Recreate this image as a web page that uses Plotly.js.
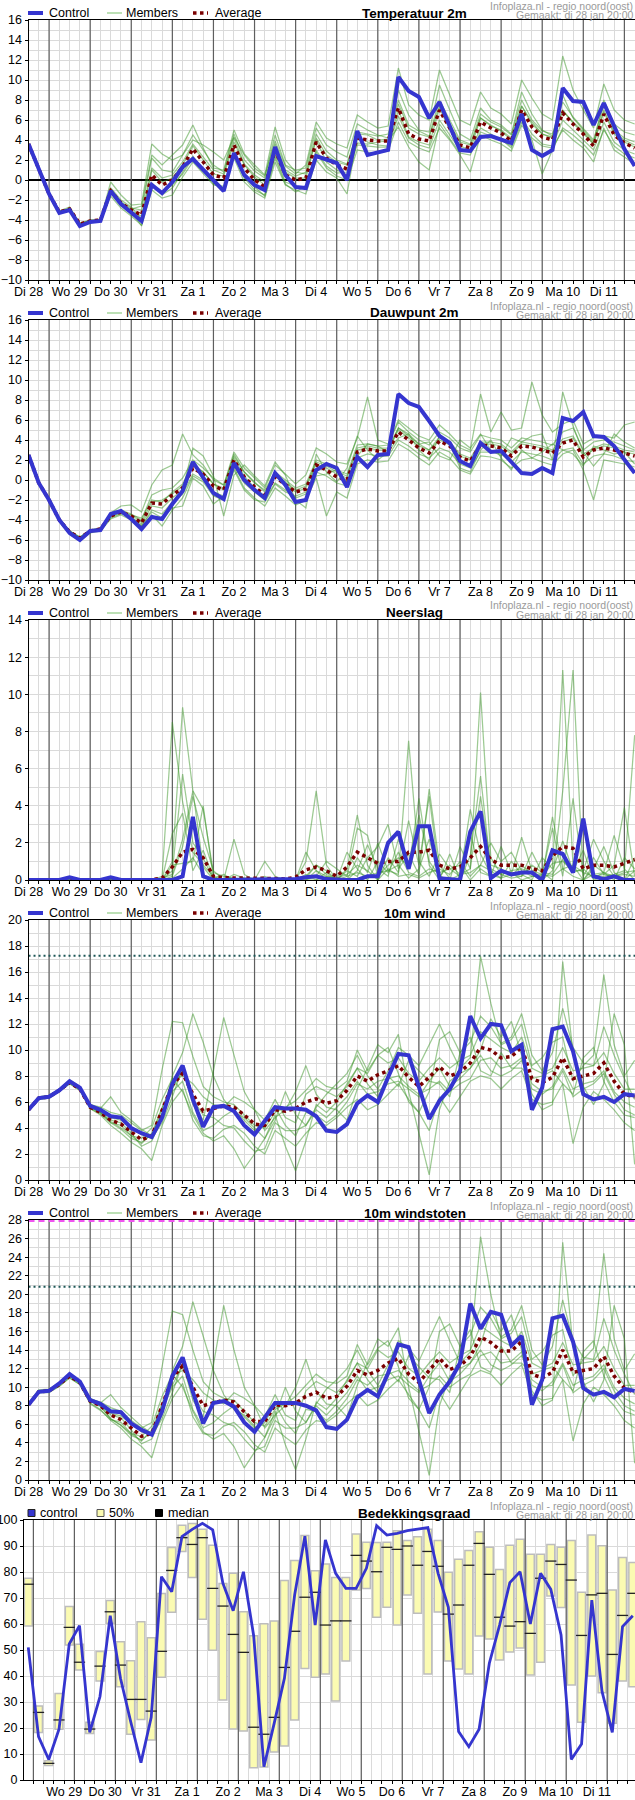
<!DOCTYPE html>
<html><head><meta charset="utf-8">
<script src="https://cdn.plot.ly/plotly-3.0.1.min.js"></script>
<style>html,body{margin:0;padding:0;background:#fff}#chart{width:635px;height:1800px}</style>
</head><body><div id="chart"></div>
<script>
// ---------------- DATA ----------------
const dayLabels = ['Di 28','Wo 29','Do 30','Vr 31','Za 1','Zo 2','Ma 3','Di 4','Wo 5','Do 6','Vr 7','Za 8','Zo 9','Ma 10','Di 11'];
const cloudDayLabels = ['Wo 29','Do 30','Vr 31','Za 1','Zo 2','Ma 3','Di 4','Wo 5','Do 6','Vr 7','Za 8','Zo 9','Ma 10','Di 11'];
const infoLine1 = 'Infoplaza.nl - regio noord(oost)';
const infoLine2 = 'Gemaakt: di 28 jan 20:00';

const tempControl = [3.6,1.2,-1.4,-3.3,-3.0,-4.6,-4.2,-4.1,-1.1,-2.4,-3.2,-4.1, -0.5,-1.3,-0.2,1.3,2.1,1.0,0.0,-1.1,2.7,0.5,-0.5,-1.0, 3.3,0.5,-0.7,-0.8,2.4,2.0,1.7,0.0,4.9,2.5,2.8,3.0, 10.3,8.9,8.3,6.2,7.8,5.5,3.0,2.9,4.3,4.4,4.1,3.7, 6.6,3.0,2.4,3.0,9.2,7.9,7.8,5.5,7.7,5.3,3.1,1.4];
const tempAverage = [3.6,1.2,-1.4,-3.2,-2.9,-4.4,-4.1,-4.0,-1.1,-2.3,-3.0,-3.5, 0.5,-0.5,0.0,1.3,3.1,1.8,0.5,0.2,3.5,1.2,0.0,-0.7, 3.0,0.5,0.0,0.2,3.8,2.2,1.5,1.1,4.2,4.0,3.9,3.9, 7.2,4.6,4.1,3.9,7.0,5.2,3.5,3.2,5.8,5.2,4.7,3.9, 7.0,5.3,4.3,4.0,6.7,5.6,4.6,3.4,6.6,4.5,3.7,3.2];
const tempMembers = [
 [3.6,1.3,-1.3,-3.1,-2.7,-4.3,-4.0,-3.9,-0.9,-2.2,-2.8,-3.0, 2.2,1.0,0.8,2.5,4.5,3.0,1.5,0.8,4.6,2.0,0.9,0.2, 4.5,1.5,1.0,1.2,5.2,3.5,2.8,2.3,5.6,5.0,4.5,4.2, 9.0,6.5,5.0,4.8,9.5,7.0,4.6,4.0,7.2,6.0,5.5,4.6, 8.8,6.6,5.0,4.4,8.5,6.2,5.0,3.8,8.0,5.6,4.8,4.5],
 [3.6,1.1,-1.5,-3.3,-3.1,-4.6,-4.2,-4.1,-1.3,-2.5,-3.3,-4.2, -0.3,-1.5,-0.8,0.8,2.4,1.0,-0.2,-0.8,2.6,0.2,-1.0,-1.5, 2.2,-0.4,-1.2,-0.6,2.8,1.2,0.4,0.0,3.0,2.8,2.7,2.9, 5.8,3.8,3.2,2.8,5.2,4.0,2.5,0.8,4.5,4.0,3.6,2.9, 5.5,4.0,0.6,3.0,5.2,4.5,3.6,2.5,5.0,3.4,2.6,2.2],
 [3.6,1.2,-1.4,-3.2,-2.8,-4.5,-4.1,-4.0,-1.0,-2.3,-3.1,-3.6, 1.2,0.2,0.5,1.8,3.6,2.3,1.0,0.6,4.2,1.6,0.5,-0.2, 3.6,1.0,0.4,0.8,4.6,2.9,2.0,1.6,4.8,4.6,4.4,4.6, 8.0,5.5,4.9,4.4,8.0,6.0,4.0,3.6,6.6,5.8,5.3,4.5, 8.0,6.0,4.9,4.6,7.8,6.3,5.2,4.0,7.5,5.0,4.2,3.8],
 [3.6,1.2,-1.3,-3.2,-3.0,-4.4,-4.0,-4.0,-1.2,-2.4,-2.9,-2.6, 2.5,1.5,2.5,3.5,5.5,3.2,1.2,1.0,5.0,2.6,1.5,0.5, 5.3,2.0,0.8,0.6,4.0,1.8,1.0,0.5,3.5,3.4,3.3,3.3, 6.4,4.2,3.5,3.2,6.0,4.5,3.0,2.8,5.2,4.6,4.0,3.4, 6.2,4.6,3.6,3.4,6.0,5.0,4.0,3.0,5.8,3.8,3.0,2.6],
 [3.6,1.2,-1.4,-3.3,-2.9,-4.3,-4.1,-4.0,-1.2,-2.3,-3.1,-4.6, -1.0,-1.8,-1.5,0.3,1.8,0.6,-0.5,-0.6,2.2,-0.2,-1.2,-1.8, 1.8,-0.5,-1.0,-1.4,2.0,0.8,0.2,-1.4,4.3,3.8,3.5,3.4, 7.0,4.3,3.8,3.5,7.2,5.0,3.4,3.0,6.2,5.5,4.9,4.0, 7.4,5.8,4.6,4.2,6.9,5.8,4.8,3.6,6.8,4.6,3.8,3.3],
 [3.6,1.2,-1.4,-3.1,-2.9,-4.4,-4.1,-4.0,-0.2,-1.5,-2.5,-2.4, 3.6,2.6,2.0,2.5,4.0,3.5,2.8,2.0,4.3,2.5,1.2,0.4, 3.9,1.4,0.6,1.5,5.8,4.2,3.6,3.2,6.5,5.8,5.2,5.4, 11.2,7.5,6.5,6.0,11.0,8.5,6.0,5.5,8.8,7.2,6.6,5.6, 10.0,8.2,6.6,6.0,12.4,9.0,7.0,5.2,9.6,7.0,6.0,5.6],
 [3.6,1.2,-1.4,-3.2,-2.9,-4.4,-4.1,-4.0,-1.6,-2.8,-3.6,-4.5, -0.5,-1.2,-0.5,0.6,2.2,1.0,-0.4,-0.9,3.0,0.5,-0.7,-1.6, 2.5,-0.2,-0.6,-0.9,3.0,1.4,0.7,0.8,3.7,3.6,3.8,3.9, 5.3,3.3,1.8,1.0,5.6,4.2,2.7,2.5,4.8,4.4,4.1,3.2, 5.8,4.2,3.4,3.2,5.0,4.0,3.2,1.8,5.2,3.0,2.3,1.6],
 [3.6,1.2,-1.4,-3.2,-2.9,-4.4,-4.2,-4.1,-0.8,-2.0,-2.7,-3.9, 1.0,-0.2,0.2,1.5,3.4,2.0,0.6,0.4,3.8,1.5,0.3,-0.5, 3.2,0.8,0.2,0.2,4.2,2.5,1.8,1.5,4.6,4.5,4.0,4.1, 7.6,5.2,4.6,4.3,7.4,5.6,3.8,3.5,6.2,5.4,5.0,4.2, 7.4,5.6,4.6,4.3,7.0,5.7,4.6,3.6,7.0,4.8,4.0,3.5]
];

const dewControl = [2.5,-0.3,-2.0,-4.0,-5.3,-6.0,-5.1,-5.0,-3.4,-3.1,-3.9,-4.9, -3.7,-3.9,-2.4,-1.1,1.8,0.2,-1.3,-1.9,1.7,0.0,-1.0,-1.8, 0.7,-0.5,-2.2,-2.0,1.0,1.6,1.2,-0.7,2.3,1.3,2.5,2.6, 8.6,7.7,7.3,5.9,4.4,3.7,1.9,1.4,3.7,2.8,2.9,1.8, 0.7,0.6,1.2,0.7,6.2,5.9,6.8,4.4,4.3,3.4,2.0,0.7];
const dewAverage = [2.5,-0.3,-2.0,-4.0,-5.2,-5.8,-5.1,-4.9,-3.6,-3.2,-3.6,-4.3, -2.3,-2.4,-1.5,-0.8,1.2,0.6,-0.6,-1.0,2.0,0.3,-0.7,-1.5, 0.3,-0.4,-1.2,-0.9,1.5,1.0,0.3,0.0,2.8,3.1,2.9,2.9, 4.8,4.0,3.2,2.7,3.9,3.4,2.3,1.9,3.5,3.4,3.2,2.4, 3.4,3.3,3.0,2.7,3.7,4.0,2.3,3.0,3.2,3.0,2.7,2.4];
const dewMembers = [
 [2.5,-0.2,-1.9,-3.9,-5.1,-5.7,-5.0,-4.8,-3.3,-2.6,-2.5,-3.2, -0.5,1.0,1.5,4.6,2.5,1.5,0.0,-0.5,2.8,1.2,0.2,-0.8, 1.5,0.6,-0.4,0.5,3.2,2.6,1.8,1.6,4.2,8.3,4.0,3.6, 6.0,5.2,4.4,4.0,5.5,4.6,3.5,3.0,8.6,4.8,6.8,5.0, 5.2,9.8,6.5,4.8,5.6,6.0,3.6,4.2,4.4,4.2,5.5,5.8],
 [2.5,-0.4,-2.1,-4.1,-5.4,-6.1,-5.3,-5.1,-3.9,-3.5,-4.0,-4.8, -3.5,-4.6,-3.0,-1.8,0.4,-0.2,-1.6,-2.0,1.2,-0.8,-1.8,-2.6, -0.8,-1.6,-2.5,-2.0,0.2,-3.6,-1.2,-1.8,1.6,2.0,1.8,1.9, 3.6,3.0,2.2,1.5,2.8,2.2,1.0,0.6,2.4,2.3,2.0,1.2, 2.0,2.2,1.8,1.5,2.6,3.0,1.0,-2.0,2.0,1.8,1.6,1.3],
 [2.5,-0.3,-2.0,-4.0,-5.2,-5.8,-5.1,-4.9,-3.5,-3.0,-3.4,-4.0, -1.5,-1.0,-0.8,0.2,2.0,1.2,0.2,-0.5,2.4,0.8,-0.3,-1.0, 0.8,0.0,-0.8,-0.4,2.0,1.6,1.0,0.6,3.5,3.6,3.4,3.5, 5.8,4.8,4.0,3.5,4.8,4.2,3.2,2.8,4.5,4.2,4.0,3.2, 4.2,4.0,3.8,3.5,4.8,5.2,3.0,3.8,4.0,3.8,3.4,3.0],
 [2.5,-0.3,-2.0,-4.0,-5.2,-5.9,-5.2,-5.0,-3.7,-3.3,-3.8,-4.6, -3.0,-3.4,-2.2,-1.4,0.6,0.0,-1.2,-1.6,1.4,-0.3,-1.2,-2.0, -0.3,-1.0,-1.8,-1.4,0.8,0.4,-0.3,-0.6,2.2,2.6,2.4,2.4, 4.0,3.4,2.6,2.2,3.2,2.8,1.6,1.2,2.8,2.8,2.6,1.8, 2.8,2.6,2.4,2.0,3.0,3.2,1.6,2.4,2.6,2.4,2.0,1.8],
 [2.5,-0.3,-2.0,-4.0,-5.2,-5.8,-5.0,-4.9,-3.6,-3.2,-3.7,-4.4, -2.6,-2.8,-1.8,-1.0,3.2,2.4,0.4,-3.6,0.5,1.5,0.4,-0.6, 1.8,0.5,-2.0,-2.8,2.6,0.8,-0.2,1.2,4.4,3.0,2.0,2.8, 5.2,4.6,3.6,3.8,2.4,2.0,4.0,3.2,4.6,3.0,2.4,4.2, 3.8,4.4,4.6,2.0,8.8,5.4,2.8,1.4,2.6,4.6,3.8,3.2],
 [2.5,-0.3,-2.0,-4.0,-5.1,-5.7,-5.0,-4.8,-3.8,-3.4,-3.5,-3.8, -2.0,-2.2,-1.2,-0.4,1.6,0.8,-0.4,-0.8,2.6,0.8,-0.2,-1.2, 0.6,-0.2,-1.0,-0.6,1.8,1.4,0.8,0.4,3.2,3.4,3.2,3.2, 5.2,4.4,3.6,3.0,4.3,3.8,2.6,2.2,3.8,3.8,3.6,2.8, 3.8,3.6,3.4,3.0,4.1,4.4,2.6,3.2,3.6,3.4,3.0,2.8],
 [2.5,-0.3,-2.0,-4.1,-5.3,-6.0,-5.2,-5.0,-3.4,-3.2,-3.8,-4.6, -3.2,-3.8,-2.8,-2.6,0.2,-0.6,-2.4,-1.6,1.0,-1.0,-2.0,-2.2, -0.4,-1.2,-1.6,-1.2,0.4,0.6,1.0,-0.2,2.4,3.6,3.4,2.8, 4.2,4.6,3.0,2.0,4.4,3.6,1.2,0.8,3.0,4.0,2.2,1.0, 3.0,2.2,2.8,3.6,3.0,2.6,1.4,3.4,3.0,2.6,2.8,1.6],
 [2.5,-0.3,-2.0,-3.9,-5.1,-5.8,-5.1,-4.9,-3.6,-3.1,-3.5,-4.2, -2.2,-2.0,-1.4,-0.6,1.4,0.8,-0.4,-1.0,2.2,0.4,-0.8,-1.6, 0.4,-0.5,-1.2,-0.8,1.6,1.2,0.6,0.2,3.0,3.2,3.0,3.0, 5.0,4.2,3.4,3.0,4.0,3.5,2.4,2.0,3.6,3.6,3.4,2.6, 3.6,3.4,3.2,2.8,3.8,4.2,2.4,3.0,3.4,3.2,2.8,2.6]
];

const rainControl = [0,0,0,0,0.15,0,0,0,0.15,0,0,0, 0,0,0,0.2,3.4,0.2,0,0,0,0,0,0, 0,0,0.05,0.15,0.2,0.05,0,0,0,0.2,0.2,2.0, 2.6,0.6,2.9,2.9,0.1,0.05,0,2.6,3.7,0.1,0.5,0.3, 0.4,0.4,0,1.6,1.4,0.4,3.3,0.2,0.05,0.2,0,0];
const rainAverage = [0,0,0,0,0.02,0,0,0.02,0.02,0,0,0.02, 0.02,0.1,0.7,1.5,1.65,1.2,0.2,0.12,0.12,0.1,0.08,0.08, 0.08,0.05,0.15,0.55,0.7,0.5,0.2,0.7,1.5,1.2,0.9,1.0, 1.0,1.5,1.5,1.6,0.8,0.6,0.7,1.2,1.8,1.1,0.8,0.8, 0.8,0.6,0.5,1.3,1.8,1.7,0.6,0.8,0.8,0.7,0.9,1.1];
const rainMembers = [
 [0,0,0,0,0,0,0,0,0,0,0,0, 0,0.2,8.5,4.2,1.5,0.8,0.2,0,0,0,0.1,0, 0,0,0,1.5,0.5,0,0,0.6,3.5,0.8,0,1.2, 0.4,3.2,0.8,4.5,0.2,0,1.8,0.6,10.1,1.2,0.3,0.1, 0.2,1.5,0.4,0,4.8,11.3,0,0.6,1.8,0.4,0,1.2],
 [0,0,0,0,0.1,0,0,0,0,0,0,0, 0,0,1.0,9.3,4.8,3.8,0.4,0.2,0.1,0,0,0, 0,0,0,0.2,0.8,0.3,0,0,0.5,1.9,0.6,0.2, 2.2,0.6,4.4,0.8,0,1.4,0,2.5,0.4,0.2,1.8,0.4, 0,0.2,0.2,3.4,0.6,0.8,0,0.3,0.4,2.4,0.6,0],
 [0,0,0,0,0,0,0,0,0.1,0,0,0, 0,0,0.5,5.7,2.0,1.2,0,0,2.2,0.3,0,0, 0,0,0,1.0,4.8,0.8,0,0,1.2,0.4,2.0,0.5, 0.3,7.5,1.0,0.2,1.4,0.6,0.2,3.8,1.4,0.3,0.1,1.0, 0.3,0,1.2,0.6,11.3,0.8,0.4,0.2,0.3,0.8,3.9,0.2],
 [0,0,0,0,0,0,0,0,0,0,0,0, 0,0,0.2,1.8,4.5,2.3,0.5,0,0,0,0,0.2, 0,0,0,0,0.2,1.0,0.6,0.2,0.4,0.2,0.4,0.5, 0.8,0.1,0.6,2.2,0.2,0,0.3,0.6,4.5,0.8,0.6,0.2, 0.8,0.3,0,0.5,2.1,0.5,1.6,0,0.2,0.3,0.5,7.8],
 [0,0,0,0,0,0,0,0,0,0,0,0, 0,0,0.8,0.9,1.0,4.0,0.1,0.3,0,0.1,0,1.0, 0.2,0,0,0,0,0.2,0,1.5,0.6,0,1.0,0.4, 1.5,0.4,0.2,0.6,0.4,0.6,0.8,0,0.6,0.2,0.5,0.3, 2.3,0.5,0.3,0.2,0.6,0.2,0,0.8,0.4,0,1.2,0.6],
 [0,0,0,0,0,0,0,0,0,0,0,0, 0,0.1,0.3,2.2,4.8,0.7,0,0,0.3,0.1,0,0, 0,0,0,0.1,0.8,0.5,0,0.2,2.8,2.4,0.2,0.8, 1.2,0.8,3.5,1.0,0.2,0.8,0.3,0.4,0.8,2.0,1.0,1.5, 0.5,0.2,0.3,2.8,0.2,4.4,0.2,1.2,0.3,0.2,0,0.5],
 [0,0,0,0,0,0,0,0,0,0,0,0, 0,0,0.1,0.6,1.2,0.3,0,0,0,0,0,0, 0,0,0,0,0.5,0.2,0.1,0.3,0.8,0.5,0,0.6, 0.2,0.3,0.1,0.4,0.6,0.3,1.0,0.2,0.8,0.5,0.1,0.3, 0.2,0.8,0.4,0.3,1.1,0.4,0.6,0.1,0.4,0.2,0.3,0.2],
 [0,0,0,0,0,0,0,0,0,0,0,0, 0,0,2.5,3.6,0.5,1.6,0.1,0,0,0,0,0, 0,0,0,0.3,0,0.4,0,0.5,0.2,1.2,1.8,3.0, 0.6,1.4,0.3,4.9,0.8,0.1,0,1.3,5.6,0.6,0.3,0.5, 0.6,0.4,0.2,0.9,1.0,0.5,0.5,2.2,1.0,0.2,0.4,0.5]
];

const windControl = [5.4,6.3,6.4,6.9,7.6,7.1,5.7,5.4,4.9,4.8,4.0,3.6, 3.3,4.8,7.4,8.8,6.2,4.1,5.6,5.7,5.3,4.2,3.5,4.5, 5.6,5.5,5.5,5.4,4.9,3.8,3.7,4.3,5.9,6.5,6.0,7.9, 9.7,9.6,7.2,4.7,6.1,7.0,8.4,12.6,10.9,12.0,11.9,9.9, 10.4,5.4,7.1,11.6,11.8,9.9,6.6,6.2,6.4,6.0,6.6,6.5];
const windAverage = [5.4,6.3,6.4,6.9,7.5,7.0,5.6,5.2,4.6,4.3,3.7,3.1, 3.4,5.3,7.3,8.2,6.6,5.3,5.5,5.7,5.6,5.0,4.3,4.2, 5.4,5.3,5.5,6.0,6.25,5.9,6.1,6.9,8.0,7.6,8.1,8.4, 8.8,7.9,7.2,7.9,8.7,8.0,8.3,9.0,10.2,10.0,9.4,9.5, 10.2,7.8,7.5,7.9,9.4,7.8,8.0,8.2,9.0,7.6,6.6,6.4];
const windThreshold = 17.25;
const windMembers = [
 [5.4,6.4,6.5,7.0,7.7,7.2,5.8,5.6,5.2,5.0,4.4,3.8, 4.2,8.5,12.2,12.1,9.5,7.2,6.4,6.0,5.8,5.0,4.2,4.0, 5.2,5.6,6.1,6.9,7.8,7.2,7.0,7.6,10.0,8.4,9.6,10.2, 8.2,6.0,5.2,6.8,10.8,11.4,9.8,10.6,12.6,11.8,10.5,11.0, 12.8,9.6,8.4,9.8,13.2,10.2,9.0,8.8,11.8,9.6,7.8,6.2],
 [5.3,6.2,6.3,6.8,7.4,6.9,5.5,5.0,4.2,3.6,2.9,2.4, 1.5,4.2,6.0,7.0,4.6,3.4,3.2,3.9,4.2,3.6,2.6,2.0, 3.8,3.2,2.6,3.6,4.4,4.2,4.8,5.6,6.2,5.4,5.8,6.6, 7.4,6.2,5.2,3.8,6.4,5.2,6.4,7.6,8.0,7.8,7.0,7.8, 8.4,6.2,5.8,6.0,7.4,2.8,5.6,6.8,6.2,5.4,4.4,3.8],
 [5.4,6.3,6.4,6.9,7.5,7.0,5.6,5.2,4.6,4.4,3.6,2.6, 3.0,4.8,8.0,9.8,12.8,10.6,8.0,6.2,5.2,4.8,4.0,3.2, 4.6,6.8,5.0,4.2,5.6,6.6,7.4,8.2,9.6,8.0,7.0,8.4, 10.2,9.6,8.8,10.4,12.0,10.2,8.6,9.4,17.2,13.6,10.4,10.8, 12.0,8.8,9.4,10.6,11.0,7.6,8.8,9.6,15.8,10.4,8.0,9.2],
 [5.4,6.3,6.4,6.9,7.6,7.0,5.6,5.2,4.4,3.9,3.2,2.9, 3.5,5.2,6.8,7.6,5.2,3.8,4.2,4.9,5.4,4.6,3.8,4.2, 5.6,4.2,3.4,5.2,5.0,4.4,5.0,6.0,7.4,7.0,7.6,7.8, 8.0,7.2,6.6,7.0,7.6,6.8,7.4,7.8,9.2,9.4,8.6,8.8, 9.4,7.0,6.6,7.2,8.6,7.0,7.4,7.6,8.4,6.8,6.0,5.6],
 [5.4,6.3,6.4,7.0,7.5,7.0,5.7,5.4,4.8,4.6,4.0,3.5, 3.2,4.4,6.4,8.6,5.8,4.6,8.4,12.5,9.6,6.8,5.4,4.6, 6.2,4.8,4.4,6.6,7.2,6.8,6.4,7.2,8.6,8.2,9.6,9.0, 9.4,8.2,7.6,8.6,9.4,8.6,9.2,9.6,11.4,10.8,10.2,9.8, 11.0,8.6,8.2,8.6,10.2,8.4,8.6,8.8,9.8,8.2,7.0,7.0],
 [5.5,6.4,6.5,7.0,7.6,7.1,5.8,5.5,6.4,5.2,4.6,3.9, 3.4,5.5,7.6,8.0,7.4,6.4,5.8,5.6,6.4,6.0,5.4,3.8, 4.8,5.4,6.8,8.8,6.6,5.6,5.4,4.6,7.0,8.6,10.4,9.8, 11.2,6.8,3.6,0.4,5.4,7.6,8.2,8.6,10.0,12.4,11.0,12.2, 9.6,6.6,5.4,5.8,16.8,9.8,7.2,5.8,7.4,12.8,10.4,1.2],
 [5.3,6.2,6.3,6.8,7.4,6.9,5.5,5.1,4.4,4.2,3.4,2.8, 3.6,5.6,7.0,8.4,6.2,5.0,4.8,4.2,4.0,3.0,2.2,2.4, 4.4,3.8,3.8,4.2,5.4,4.8,5.6,6.4,7.6,6.6,6.8,7.4, 7.6,7.0,6.4,7.6,8.6,7.2,7.8,8.6,9.6,8.4,8.0,8.4, 9.2,7.4,6.8,7.0,8.4,6.4,7.0,7.4,8.2,6.6,5.4,5.0],
 [5.4,6.3,6.4,6.9,7.5,7.0,5.6,5.2,4.5,4.0,3.4,3.2, 4.0,6.2,7.8,6.8,5.0,3.6,3.0,3.4,2.4,0.9,2.0,3.2, 5.0,2.6,0.7,3.0,5.8,5.2,6.0,7.4,8.6,7.4,6.4,8.0, 7.2,9.2,8.4,7.6,7.4,6.4,9.8,11.0,8.4,8.0,9.8,8.6, 8.6,7.8,8.0,8.4,7.4,6.6,9.4,10.2,7.6,6.0,5.0,4.8]
];

const gustControl = [8.1,9.5,9.6,10.4,11.4,10.6,8.6,8.2,7.4,7.3,6.1,5.4, 4.9,7.4,11.2,13.2,9.5,6.1,8.3,8.5,7.9,6.2,5.2,6.8, 8.3,8.3,8.3,8.0,7.5,5.7,5.5,6.5,8.9,9.7,9.0,11.5, 14.6,14.3,10.6,7.2,9.2,10.6,12.6,19.0,16.3,18.1,17.8,14.5, 15.5,8.1,10.8,17.4,17.7,14.9,9.9,9.2,9.5,8.9,9.8,9.6];
const gustAverage = [8.1,9.5,9.6,10.3,11.2,10.5,8.5,8.0,7.0,6.5,5.6,4.7, 5.0,7.9,11.0,12.3,10.0,8.0,8.3,8.6,8.4,7.4,6.3,6.3, 8.1,8.0,8.3,9.0,9.45,8.8,9.0,10.1,11.8,11.3,11.8,12.6, 13.1,11.4,10.5,11.8,13.1,11.9,12.3,13.3,15.4,14.8,13.9,13.9, 14.9,11.4,11.0,11.6,14.0,11.6,11.8,12.0,13.3,11.2,9.9,9.4];
const gustThreshold = 20.8;
const gustStormLine = 28;
const gustMembers = [
 [8.2,9.6,9.7,10.4,11.4,10.7,8.7,8.4,7.8,7.4,6.4,5.6, 6.2,12.4,18.2,17.8,14.0,10.6,9.4,8.8,8.6,7.4,6.2,5.8, 7.6,8.2,9.0,10.2,11.4,10.6,10.4,11.2,14.6,12.4,14.2,15.0, 12.2,8.8,7.6,10.0,16.0,16.8,14.4,15.6,18.6,17.4,15.4,16.2, 18.8,14.0,12.4,14.4,19.4,15.0,13.2,13.0,17.4,14.0,11.4,9.2],
 [8.0,9.4,9.5,10.1,11.0,10.3,8.3,7.6,6.4,5.6,4.4,3.6, 2.4,6.2,8.8,10.4,6.8,5.0,4.8,5.8,6.2,5.2,3.8,3.0, 5.6,4.6,3.8,5.4,6.4,6.2,7.0,8.2,9.2,8.0,8.6,9.8, 10.8,9.2,7.6,5.6,9.4,7.6,9.4,11.2,11.8,11.4,10.2,11.4, 12.4,9.2,8.6,8.8,10.8,4.2,8.2,10.0,9.2,8.0,6.4,5.6],
 [8.1,9.5,9.6,10.3,11.2,10.5,8.5,8.0,7.0,6.7,5.4,3.9, 4.4,7.0,11.8,14.4,19.2,15.6,11.8,9.2,7.6,7.0,5.8,4.6, 6.8,10.0,7.4,6.2,8.2,9.8,10.8,12.0,14.0,11.8,10.2,12.4, 15.0,14.2,12.8,15.2,17.6,15.0,12.6,13.8,26.2,20.0,15.2,15.8, 17.6,13.0,13.8,15.6,16.2,11.2,13.0,14.2,24.4,15.2,11.8,13.6],
 [8.1,9.5,9.6,10.3,11.3,10.5,8.5,7.9,6.6,5.9,4.8,4.3, 5.2,7.6,10.0,11.2,7.6,5.6,6.2,7.2,8.0,6.8,5.6,6.2, 8.2,6.2,5.0,7.6,7.4,6.4,7.4,8.8,10.8,10.2,11.2,11.4, 11.8,10.6,9.6,10.2,11.2,10.0,10.8,11.4,13.4,13.8,12.6,12.8, 13.8,10.2,9.6,10.6,12.6,10.2,10.8,11.2,12.4,10.0,8.8,8.2],
 [8.1,9.5,9.6,10.4,11.2,10.5,8.6,8.1,7.2,6.9,6.0,5.2, 4.8,6.6,9.4,12.6,8.6,6.8,12.4,18.8,14.0,10.0,8.0,6.8, 9.2,7.0,6.4,9.6,10.6,10.0,9.4,10.6,12.6,12.0,14.0,13.2, 13.8,12.0,11.2,12.6,13.8,12.6,13.4,14.0,16.6,15.8,15.0,14.4, 16.0,12.6,12.0,12.6,14.8,12.4,12.6,12.8,14.4,12.0,10.2,10.2],
 [8.3,9.7,9.8,10.5,11.5,10.7,8.8,8.3,9.2,7.8,6.8,5.8, 5.0,8.2,11.2,11.8,10.8,9.4,8.6,8.2,9.4,8.8,8.0,5.6, 7.0,8.0,10.0,13.0,9.6,8.2,8.0,6.8,10.2,12.6,15.2,14.4, 16.4,10.0,5.2,0.5,8.0,11.2,12.0,12.6,14.6,18.2,16.0,17.8, 14.0,9.6,8.0,8.6,25.6,14.4,10.6,8.4,10.8,18.8,15.2,1.8],
 [8.0,9.4,9.4,10.1,11.0,10.3,8.2,7.5,6.5,6.2,5.0,4.2, 5.4,8.2,10.2,12.4,9.2,7.4,7.0,6.2,5.8,4.4,3.2,3.6, 6.4,5.6,5.6,6.2,8.0,7.0,8.2,9.4,11.2,9.6,10.0,10.8, 11.2,10.2,9.4,11.2,12.6,10.6,11.4,12.6,14.0,12.4,11.8,12.4, 13.4,10.8,10.0,10.2,12.4,9.4,10.2,10.8,12.0,9.6,8.0,7.4],
 [8.1,9.5,9.6,10.3,11.2,10.5,8.5,8.0,6.6,5.9,5.0,4.7, 5.8,9.0,11.4,10.0,7.4,5.2,4.4,5.0,3.6,1.3,3.0,4.6, 7.4,3.8,1.1,4.4,8.4,7.6,8.8,10.8,12.6,10.8,9.4,11.8, 10.6,13.4,12.2,11.0,10.8,9.4,14.4,16.2,12.2,11.6,14.4,12.6, 12.6,11.4,11.8,12.2,10.8,9.6,13.8,15.0,11.2,8.8,7.4,7.0]
];

const cloudTop = [77.6,28.5,7.4,33.3,66.7,52.2,22.2,49.4,69.0,53.2,45.9,60.9, 54.7,71.7,89.4,98.0,98.7,96.4,90.3,75.6,79.5,64.7,55.5,60.1, 61.2,76.7,84.4,94.0,80.5,83.1,77.9,77.9,94.6,91.4,91.3,91.4, 95.9,92.1,93.6,96.4,92.1,79.9,84.9,88.3,95.5,89.5,81.0,90.3, 92.6,86.8,86.8,90.6,89.5,92.1,72.2,94.2,90.1,73.1,85.6,83.7];
const cloudBottom = [59.2,18.3,5.6,19.5,51.9,42.3,17.9,38.1,60.3,35.9,17.6,23.3, 15.4,39.5,64.5,87.9,77.9,61.8,49.9,30.8,19.6,18.8,4.7,5.0, 10.8,13.1,23.1,42.9,39.5,40.8,30.4,45.8,73.1,73.7,62.6,66.4, 59.6,71.2,64.1,40.8,64.6,45.8,42.7,40.8,55.4,54.2,46.2,49.2, 50.8,40.4,45.3,70.8,66.3,36.5,22.2,40.0,33.6,21.8,38.1,35.9];
const cloudMedian = [75.3,26.0,6.4,23.1,58.7,45.3,19.6,43.8,64.7,44.2,31.0,31.0, 26.5,49.5,80.6,93.2,90.6,93.2,73.7,66.9,56.0,49.1,20.3,17.6, 24.1,43.3,57.2,70.3,72.2,59.6,61.2,61.2,86.4,84.2,80.1,89.5, 88.7,90.0,82.6,87.9,82.2,63.8,67.3,82.6,91.0,79.1,62.6,59.2, 60.9,56.4,77.6,84.2,82.9,76.9,55.6,71.2,71.8,48.3,63.3,71.8];
const cloudControl = [51.0,16.7,7.9,19.5,52.3,59.4,18.3,32.1,63.2,39.1,22.4,6.7, 24.1,78.2,72.4,93.6,96.4,98.7,96.2,75.6,65.1,80.1,55.5,5.1, 21.8,39.1,71.2,93.8,59.6,92.3,79.5,73.7,73.7,81.4,97.8,94.2, 94.9,95.9,96.5,97.1,79.5,66.4,18.6,12.8,19.5,44.9,59.6,75.9, 80.1,60.0,79.5,73.3,55.8,7.9,13.8,69.2,34.0,18.3,59.0,63.2];

// ---------------- STYLE / GEOMETRY ----------------
const W = 635, H = 1800, PANEL_H = 300;
const STEP = 6;               // hours between model steps
const CLOUD_START = 9;        // first cloud box (hours after Di 28 12:00)
const X_END = 354.2, CLOUD_X = [6.5, 364.3];
const FONT = 'Liberation Sans Narrow, Arial Narrow, Liberation Sans, Arial, sans-serif';
const TITLE_FONT = 'Liberation Sans, Arial, sans-serif';
const GRID = '#dadada', DAYLINE = '#5e5e5e';
const BLUE = '#3535cf', MAROON = '#7a0000', MEMBER = 'rgba(60,150,40,0.5)';
const PLOT_LEFT = 28.5, CLOUD_LEFT = 24;

const px = v => v / W;
const py = v => 1 - v / H;
const hours = tempControl.map((_, i) => i * STEP);
const labelHours = dayLabels.map((_, i) => i * 24);
const dayBounds = dayLabels.map((_, i) => 12 + i * 24);
const cloudHours = cloudControl.map((_, j) => CLOUD_START + j * STEP);
const cloudLabelHours = cloudDayLabels.map((_, i) => 30 + i * 24);
const cloudBounds = cloudDayLabels.map((_, i) => 12 + i * 24).concat([348]);

const panels = [
  {title: 'Temperatuur 2m', control: tempControl, average: tempAverage, members: tempMembers, range: [-10, 16], zero: true, refs: []},
  {title: 'Dauwpunt 2m', control: dewControl, average: dewAverage, members: dewMembers, range: [-10, 16], zero: false, refs: []},
  {title: 'Neerslag', control: rainControl, average: rainAverage, members: rainMembers, range: [0, 14], zero: false, refs: []},
  {title: '10m wind', control: windControl, average: windAverage, members: windMembers, range: [0, 20], zero: false,
   refs: [{y: windThreshold, color: '#1d5757', dash: '2px,3px', width: 2}]},
  {title: '10m windstoten', control: gustControl, average: gustAverage, members: gustMembers, range: [0, 28], zero: false,
   refs: [{y: gustThreshold, color: '#1d5757', dash: '2px,3px', width: 2}, {y: gustStormLine, color: '#f055f0', dash: '6px,4px', width: 4}]}
];

const traces = [];
const shapes = [];
const annotations = [];
const layout = {
  width: W, height: H, margin: {l: 0, r: 0, t: 0, b: 0},
  paper_bgcolor: '#fff', plot_bgcolor: '#fff', showlegend: false,
  font: {family: FONT, size: 12.5, color: '#000'}
};

function ann(text, x, y, anchor, font) {
  annotations.push({text, xref: 'paper', yref: 'paper', x: px(x), y: py(y), xanchor: anchor, yanchor: 'middle',
    showarrow: false, font, borderpad: 0});
}
function header(i, title) {
  const oy = i * PANEL_H;
  ann('<b>' + title + '</b>', 415, oy + 13, 'center', {family: TITLE_FONT, size: 13.5, color: '#000'});
  ann(infoLine1, 634, oy + 5.5, 'right', {family: FONT, size: 10.5, color: '#9a9a9a'});
  ann(infoLine2, 634, oy + 14.5, 'right', {family: FONT, size: 10.5, color: '#9a9a9a'});
}
function legendLine(x0, x1, y, line) {
  shapes.push({type: 'line', xref: 'paper', yref: 'paper', x0: px(x0), x1: px(x1), y0: py(y), y1: py(y), line});
}
function legendBox(x0, y, fill, stroke) {
  shapes.push({type: 'rect', xref: 'paper', yref: 'paper', x0: px(x0), x1: px(x0 + 7), y0: py(y - 3.5), y1: py(y + 3.5),
    fillcolor: fill, line: {color: stroke, width: 1}});
}
// vertical day-boundary lines drawn as one trace per subplot
function dayLineTrace(bounds, yr, xa, ya) {
  const x = [], y = [];
  bounds.forEach(b => { x.push(b, b, null); y.push(yr[0], yr[1], null); });
  return {type: 'scatter', mode: 'lines', x, y, xaxis: xa, yaxis: ya, hoverinfo: 'skip',
    line: {color: DAYLINE, width: 1.2}};
}

const tickFont = {family: FONT, size: 12.5, color: '#000'};

panels.forEach((p, i) => {
  const s = i === 0 ? '' : String(i + 1);
  const oy = i * PANEL_H;
  const xa = 'x' + s, ya = 'y' + s;
  traces.push(dayLineTrace(dayBounds.filter(b => b < X_END), p.range, xa, ya));
  p.refs.forEach(r => traces.push({type: 'scatter', mode: 'lines', x: [0, X_END], y: [r.y, r.y], xaxis: xa, yaxis: ya,
    hoverinfo: 'skip', line: {color: r.color, width: r.width, dash: r.dash}}));
  p.members.forEach(m => traces.push({type: 'scatter', mode: 'lines', x: hours, y: m, xaxis: xa, yaxis: ya,
    line: {color: MEMBER, width: 1.25}, hoverinfo: 'skip'}));
  traces.push({type: 'scatter', mode: 'lines', x: hours, y: p.average, xaxis: xa, yaxis: ya,
    line: {color: MAROON, width: 3.5, dash: 'dot'}, hoverinfo: 'skip'});
  traces.push({type: 'scatter', mode: 'lines', x: hours, y: p.control, xaxis: xa, yaxis: ya,
    line: {color: BLUE, width: 4}, hoverinfo: 'skip'});

  layout['xaxis' + s] = {
    domain: [px(PLOT_LEFT), 1], range: [-0.01, X_END], anchor: ya,
    tickmode: 'array', tickvals: labelHours, ticktext: dayLabels,
    ticks: '', showgrid: true, gridcolor: GRID, gridwidth: 1,
    minor: {tickmode: 'linear', tick0: 0, dtick: STEP, showgrid: true, gridcolor: GRID, gridwidth: 1, ticks: 'outside', ticklen: 3, tickcolor: '#000'},
    showline: true, linecolor: '#000', linewidth: 1, mirror: true, zeroline: false,
    tickfont: tickFont, fixedrange: true
  };
  layout['yaxis' + s] = {
    domain: [py(oy + 280), py(oy + 20)], range: p.range, anchor: xa,
    tickmode: 'linear', tick0: p.range[0], dtick: 2, ticks: 'outside', ticklen: 3, tickcolor: '#000',
    showgrid: true, gridcolor: GRID, gridwidth: 1,
    minor: {tickmode: 'linear', tick0: 0, dtick: 1, showgrid: true, gridcolor: GRID, gridwidth: 1},
    showline: true, linecolor: '#000', linewidth: 1, mirror: false,
    zeroline: p.zero, zerolinecolor: '#000', zerolinewidth: 2.5,
    tickfont: tickFont, fixedrange: true
  };

  header(i, p.title);
  legendLine(28, 43, oy + 13, {color: BLUE, width: 4});
  ann('Control', 47.5, oy + 13, 'left', tickFont);
  legendLine(107, 122, oy + 13, {color: '#a6d69c', width: 1.5});
  ann('Members', 125, oy + 13, 'left', tickFont);
  legendLine(193, 208, oy + 13, {color: MAROON, width: 3.5, dash: 'dot'});
  ann('Average', 214, oy + 13, 'left', tickFont);
});

// ---------------- Bedekkingsgraad ----------------
(function () {
  const i = 5, oy = i * PANEL_H;
  traces.push(dayLineTrace(cloudBounds, [0, 100], 'x6', 'y6'));
  traces.push({type: 'bar', x: cloudHours, base: cloudBottom, y: cloudTop.map((t, j) => t - cloudBottom[j]),
    width: 4.6, xaxis: 'x6', yaxis: 'y6', hoverinfo: 'skip',
    marker: {color: '#fbfbb2', line: {color: '#bdbdbd', width: 1.5}}});
  traces.push({type: 'scatter', mode: 'markers', x: cloudHours, y: cloudMedian, xaxis: 'x6', yaxis: 'y6', hoverinfo: 'skip',
    marker: {symbol: 'line-ew', size: 8, color: '#222', line: {color: '#222', width: 1.3}}});
  traces.push({type: 'scatter', mode: 'lines', x: cloudHours, y: cloudControl, xaxis: 'x6', yaxis: 'y6', hoverinfo: 'skip',
    line: {color: BLUE, width: 2.8}});

  layout.xaxis6 = {
    domain: [px(CLOUD_LEFT), 1], range: CLOUD_X, anchor: 'y6',
    tickmode: 'array', tickvals: cloudLabelHours, ticktext: cloudDayLabels,
    ticks: '', showgrid: true, gridcolor: GRID,
    minor: {tickmode: 'linear', tick0: 0, dtick: STEP, showgrid: true, gridcolor: GRID, ticks: 'outside', ticklen: 3, tickcolor: '#000'},
    showline: true, linecolor: '#000', linewidth: 1, mirror: true, zeroline: false, tickfont: tickFont, fixedrange: true
  };
  layout.yaxis6 = {
    domain: [py(oy + 280), py(oy + 20)], range: [0, 100], anchor: 'x6',
    tickmode: 'linear', tick0: 0, dtick: 10, ticks: 'outside', ticklen: 3, tickcolor: '#000',
    showgrid: true, gridcolor: GRID, showline: true, linecolor: '#000', zeroline: false, tickfont: tickFont, fixedrange: true
  };

  header(i, 'Bedekkingsgraad');
  legendBox(28, oy + 13, BLUE, '#222');
  ann('control', 39, oy + 13, 'left', tickFont);
  legendBox(97, oy + 13, '#fbfbb2', '#555');
  ann('50%', 108, oy + 13, 'left', tickFont);
  legendBox(155.5, oy + 13, '#000', '#000');
  ann('median', 166.5, oy + 13, 'left', tickFont);
})();

layout.shapes = shapes;
layout.annotations = annotations;
Plotly.newPlot('chart', traces, layout, {displayModeBar: false, staticPlot: true});
</script>
</body></html>
